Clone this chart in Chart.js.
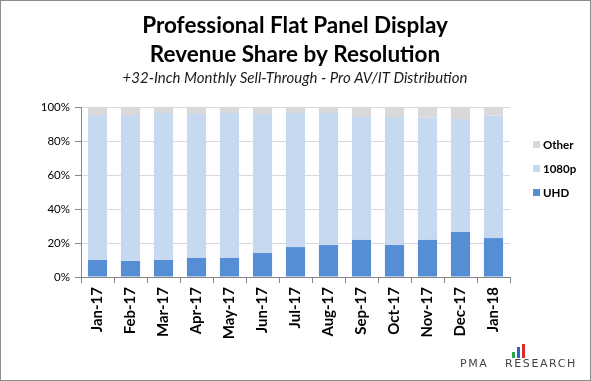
<!DOCTYPE html>
<html><head><meta charset="utf-8">
<script src="https://cdn.jsdelivr.net/npm/chart.js@4.4.1/dist/chart.umd.min.js"></script>
<style>html,body{margin:0;padding:0;background:#fff}#wrap{width:591px;height:381px;position:relative}</style>
</head><body><div id="wrap"><canvas id="c" width="591" height="381"></canvas></div>
<script>
const categories = ['Jan-17','Feb-17','Mar-17','Apr-17','May-17','Jun-17','Jul-17','Aug-17','Sep-17','Oct-17','Nov-17','Dec-17','Jan-18'];
const uhd =    [10.0, 9.4, 10.0, 11.2, 11.2, 14.1, 17.6, 18.8, 21.8, 18.8, 21.8, 26.5, 22.9];
const p1080 =  [85.3, 85.9, 86.5, 84.7, 85.3, 81.8, 78.9, 77.7, 72.3, 75.3, 71.9, 66.4, 72.0];
const other =  [4.7, 4.7, 3.5, 4.1, 3.5, 4.1, 3.5, 3.5, 5.9, 5.9, 6.3, 7.1, 5.1];
const yTicks = [0, 20, 40, 60, 80, 100];
const titleLines = ['Professional Flat Panel Display', 'Revenue Share by Resolution'];
const subtitle = '+32-Inch Monthly Sell-Through - Pro AV/IT Distribution';

const FONT = 'Lato, "Liberation Sans", sans-serif';

const deco = {
  id: 'deco',
  afterDraw(chart) {
    const ctx = chart.ctx;
    ctx.save();
    ctx.strokeStyle = '#8c8c8c';
    ctx.lineWidth = 1;
    ctx.strokeRect(0.5, 0.5, 590, 380);
    ctx.fillStyle = '#000';
    ctx.textAlign = 'center';
    ctx.textBaseline = 'middle';
    ctx.font = 'bold 22.5px ' + FONT;
    ctx.fillText(titleLines[0], 295, 26);
    ctx.fillText(titleLines[1], 295, 55);
    ctx.font = 'italic 15px ' + FONT;
    ctx.fillStyle = '#1a1a1a';
    ctx.fillText(subtitle, 295, 78);
    const ds = chart.data.datasets;
    ctx.textAlign = 'left';
    ctx.font = 'bold 11.5px ' + FONT;
    const ys = [145, 169, 193];
    for (let i = 0; i < ds.length; i++) {
      const d = ds[ds.length - 1 - i];
      ctx.fillStyle = d.backgroundColor;
      ctx.fillRect(533, ys[i] - 4, 7, 7);
      ctx.fillStyle = '#000';
      ctx.fillText(d.label, 543, ys[i]);
    }
    ctx.fillStyle = '#2ca24a'; ctx.fillRect(512, 352, 3, 6);
    ctx.fillStyle = '#2a62d6'; ctx.fillRect(517, 347, 3, 11);
    ctx.fillStyle = '#d7302a'; ctx.fillRect(522, 344, 3, 14);
    ctx.fillStyle = '#444';
    ctx.font = '11px "DejaVu Sans", sans-serif';
    ctx.textAlign = 'left';
    if ('letterSpacing' in ctx) ctx.letterSpacing = '1.6px';
    ctx.fillText('PMA', 460, 364);
    ctx.fillText('RESEARCH', 505, 364);
    ctx.restore();
  }
};

new Chart(document.getElementById('c'), {
  type: 'bar',
  data: {
    labels: categories,
    datasets: [
      { label: 'UHD', data: uhd, backgroundColor: '#558ed5' },
      { label: '1080p', data: p1080, backgroundColor: '#c6d9f1' },
      { label: 'Other', data: other, backgroundColor: '#d9d9d9' }
    ]
  },
  options: {
    responsive: false,
    animation: false,
    devicePixelRatio: 1,
    layout: { padding: { left: 0, right: 81, top: 107, bottom: 0 } },
    datasets: { bar: { categoryPercentage: 1, barPercentage: 0.58, borderWidth: 0 } },
    plugins: { legend: { display: false }, tooltip: { enabled: false }, title: { display: false } },
    scales: {
      x: {
        stacked: true,
        grid: { display: true, drawOnChartArea: false, drawTicks: true, tickLength: 6, color: '#868686', offset: true },
        border: { display: true, color: '#868686' },
        ticks: { maxRotation: 90, minRotation: 90, color: '#000', font: { family: FONT, size: 15, weight: 'bold' }, padding: 4 },
        afterFit(s) { s.height = 104; }
      },
      y: {
        stacked: true,
        min: 0, max: 100,
        afterBuildTicks(s) { s.ticks = yTicks.map(v => ({ value: v })); },
        grid: { color: '#d9d9d9', drawTicks: true, tickLength: 6, tickColor: '#868686' },
        border: { display: true, color: '#868686' },
        ticks: { color: '#000', font: { family: FONT, size: 11.5 }, padding: 5, callback: v => v + '%' },
        afterFit(s) { s.width = 81; }
      }
    }
  },
  plugins: [deco]
});
</script></body></html>
